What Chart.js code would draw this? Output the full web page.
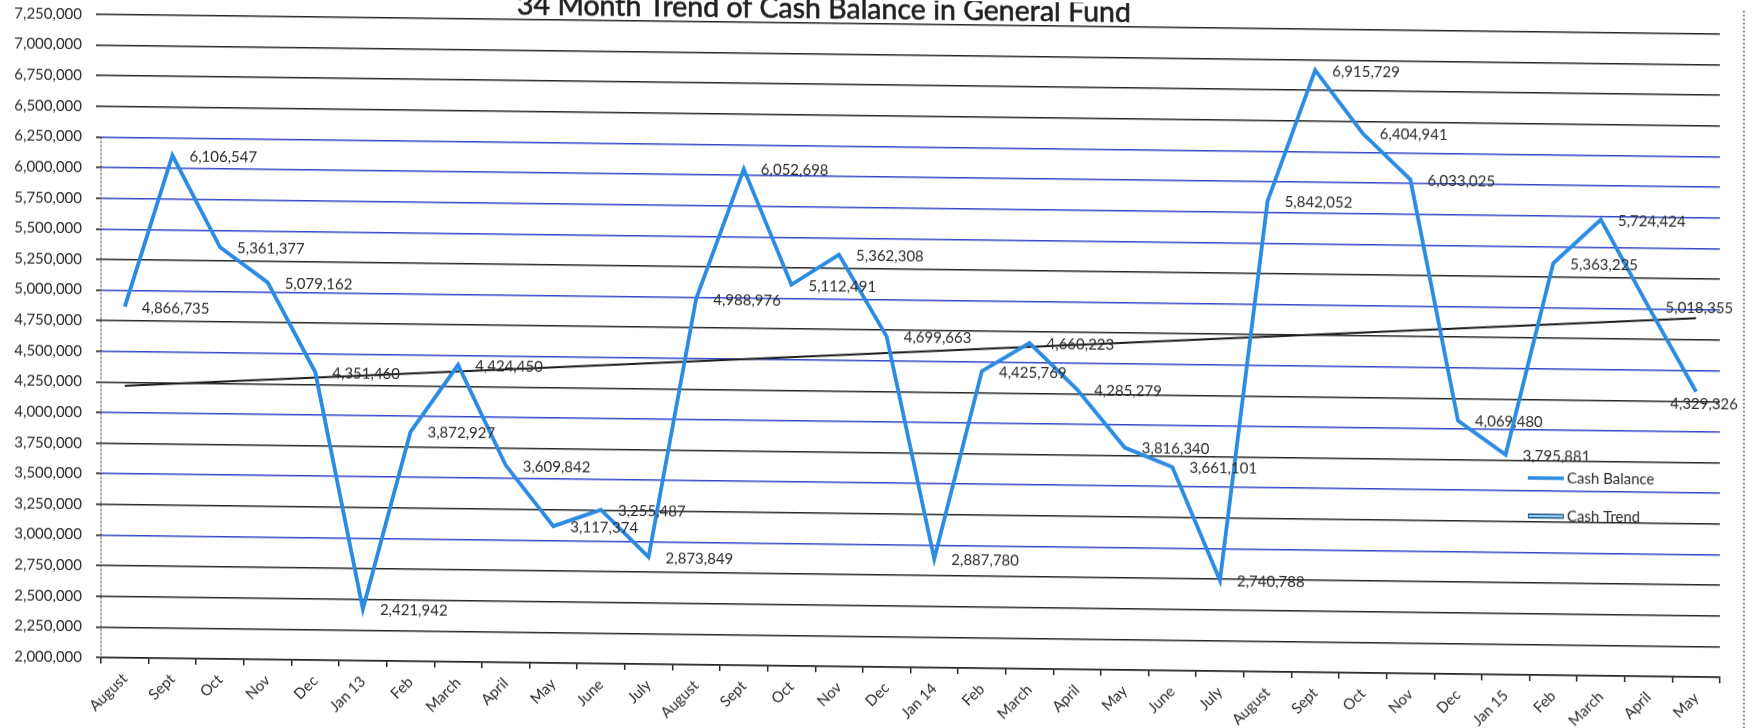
<!DOCTYPE html>
<html>
<head>
<meta charset="utf-8">
<title>34 Month Trend of Cash Balance in General Fund</title>
<script src="https://cdn.jsdelivr.net/npm/chart.js"></script>
<style>
  body { margin: 0; background: #fff; }
  /* the printed sheet sits slightly askew, horizontal lines fall to the right */
  #cash { display: block; transform: skewY(0.7deg); }
</style>
</head>
<body>
<canvas id="cash" width="1758" height="728"></canvas>
<script>
// --- data ---
const months = [
  'August', 'Sept', 'Oct', 'Nov', 'Dec', 'Jan 13', 'Feb', 'March', 'April', 'May', 'June', 'July',
  'August', 'Sept', 'Oct', 'Nov', 'Dec', 'Jan 14', 'Feb', 'March', 'April', 'May', 'June', 'July',
  'August', 'Sept', 'Oct', 'Nov', 'Dec', 'Jan 15', 'Feb', 'March', 'April', 'May'
];
const cashBalance = [
  4866735, 6106547, 5361377, 5079162, 4351460, 2421942, 3872927, 4424450, 3609842, 3117374, 3255487, 2873849,
  4988976, 6052698, 5112491, 5362308, 4699663, 2887780, 4425769, 4660223, 4285279, 3816340, 3661101, 2740788,
  5842052, 6915729, 6404941, 6033025, 4069480, 3795881, 5363225, 5724424, 5018355, 4329326
];
// straight trend line: value at first and last month
const trendEnds = [4220000, 4930000];
const yMin = 2000000;
const yMax = 7250000;
const yStep = 250000;

const titleText = '34 Month Trend of Cash Balance in General Fund';

// trend only has its two end points, the line spans the gap
const cashTrend = months.map((m, i) =>
  i === 0 ? trendEnds[0] : (i === months.length - 1 ? trendEnds[1] : null));

// --- styles ---
const FONT = 'Lato, "Open Sans", sans-serif';
const TEXT = '#2b2b2b';
const LINE_BLUE = '#2a8be3';
const GRID_DARK = '#262626';
const GRID_BLUE = '#3447c8';
const blueGrid = [3000000, 3500000, 4000000, 4500000, 5000000, 5500000, 5750000, 6000000, 6250000];
const LABEL_EDGE = 1738;   // labels are kept left of this x

const fmt = v => Number(v).toLocaleString('en-US');

// value labels to the right of every balance point
const pointLabels = {
  id: 'pointLabels',
  afterDatasetsDraw(chart) {
    const ctx = chart.ctx;
    const meta = chart.getDatasetMeta(0);
    ctx.save();
    ctx.font = '15px ' + FONT;
    ctx.fillStyle = TEXT;
    ctx.textAlign = 'left';
    ctx.textBaseline = 'middle';
    meta.data.forEach((pt, i) => {
      const txt = fmt(cashBalance[i]);
      const w = ctx.measureText(txt).width;
      let x = pt.x + 17, y = pt.y + 1;
      if (x + w > LABEL_EDGE) {
        // no room on the right: tuck it under the point
        x = LABEL_EDGE - w;
        y = pt.y + 12;
      }
      ctx.fillText(txt, x, y);
    });
    ctx.restore();
  }
};

// title sits right on the top grid line, legend inside the plot on the right
const decorations = {
  id: 'decorations',
  afterDraw(chart) {
    const ctx = chart.ctx;
    const area = chart.chartArea;
    ctx.save();
    ctx.font = '28.5px ' + FONT;
    ctx.fillStyle = '#1e1e1e';
    ctx.strokeStyle = '#1e1e1e';
    ctx.lineWidth = 0.6;
    ctx.textAlign = 'center';
    ctx.textBaseline = 'alphabetic';
    ctx.fillText(titleText, 824, 19);
    ctx.strokeText(titleText, 824, 19);

    // legend entries
    const lx = 1528, ly = [470, 508];
    ctx.lineCap = 'butt';
    ctx.strokeStyle = LINE_BLUE;
    ctx.lineWidth = 3.5;
    ctx.beginPath(); ctx.moveTo(lx, ly[0]); ctx.lineTo(lx + 36, ly[0]); ctx.stroke();
    ctx.strokeStyle = '#2a5f8a';
    ctx.lineWidth = 5;
    ctx.beginPath(); ctx.moveTo(lx, ly[1]); ctx.lineTo(lx + 36, ly[1]); ctx.stroke();
    ctx.strokeStyle = '#8fd0f0';
    ctx.lineWidth = 2;
    ctx.beginPath(); ctx.moveTo(lx + 1, ly[1]); ctx.lineTo(lx + 35, ly[1]); ctx.stroke();
    ctx.font = '15px ' + FONT;
    ctx.fillStyle = TEXT;
    ctx.textAlign = 'left';
    ctx.textBaseline = 'middle';
    chart.data.datasets.forEach((ds, i) => ctx.fillText(ds.label, lx + 39, ly[i]));

    // dotted value axis (only shows below 6,250,000) and the dotted frame edge on the right
    const axisTop = chart.scales.y.getPixelForValue(6250000);
    ctx.strokeStyle = '#4a4a4a';
    ctx.lineWidth = 1.2;
    ctx.setLineDash([2, 2]);
    ctx.beginPath(); ctx.moveTo(area.left, axisTop); ctx.lineTo(area.left, area.bottom + 5); ctx.stroke();
    ctx.beginPath(); ctx.moveTo(1744, 0); ctx.lineTo(1744, chart.height); ctx.stroke();
    ctx.restore();
  }
};

new Chart(document.getElementById('cash'), {
  type: 'line',
  data: {
    labels: months,
    datasets: [
      {
        label: 'Cash Balance',
        data: cashBalance,
        borderColor: LINE_BLUE,
        borderWidth: 3.8,
        pointRadius: 0,
        tension: 0,
        order: 0
      },
      {
        label: 'Cash Trend',
        data: cashTrend,
        borderColor: '#1c1c1c',
        borderWidth: 2,
        pointRadius: 0,
        spanGaps: true,
        order: 1
      }
    ]
  },
  options: {
    responsive: false,
    animation: false,
    layout: { padding: { top: 24, right: 38, left: 0, bottom: 0 } },
    plugins: {
      legend: { display: false },
      title: { display: false },
      tooltip: { enabled: false }
    },
    scales: {
      x: {
        offset: true,
        afterFit(scale) { scale.height = 61; },
        grid: {
          offset: true,
          drawOnChartArea: false,
          drawTicks: true,
          tickLength: 6,
          tickColor: GRID_DARK,
          lineWidth: 1.5
        },
        border: { color: GRID_DARK, width: 1.6 },
        ticks: {
          autoSkip: false,
          maxRotation: 45,
          minRotation: 45,
          padding: 6,
          color: TEXT,
          font: { family: FONT, size: 15 }
        }
      },
      y: {
        min: yMin,
        max: yMax,
        afterFit(scale) { scale.width = 101; },
        grid: {
          color: ctx => blueGrid.includes(ctx.tick.value) ? GRID_BLUE : GRID_DARK,
          lineWidth: 1.6,
          tickLength: 5,
          tickColor: GRID_DARK
        },
        border: { display: false },
        ticks: {
          stepSize: yStep,
          padding: 14,
          color: TEXT,
          font: { family: FONT, size: 15 },
          callback: v => fmt(v)
        }
      }
    }
  },
  plugins: [pointLabels, decorations]
});
</script>
</body>
</html>
